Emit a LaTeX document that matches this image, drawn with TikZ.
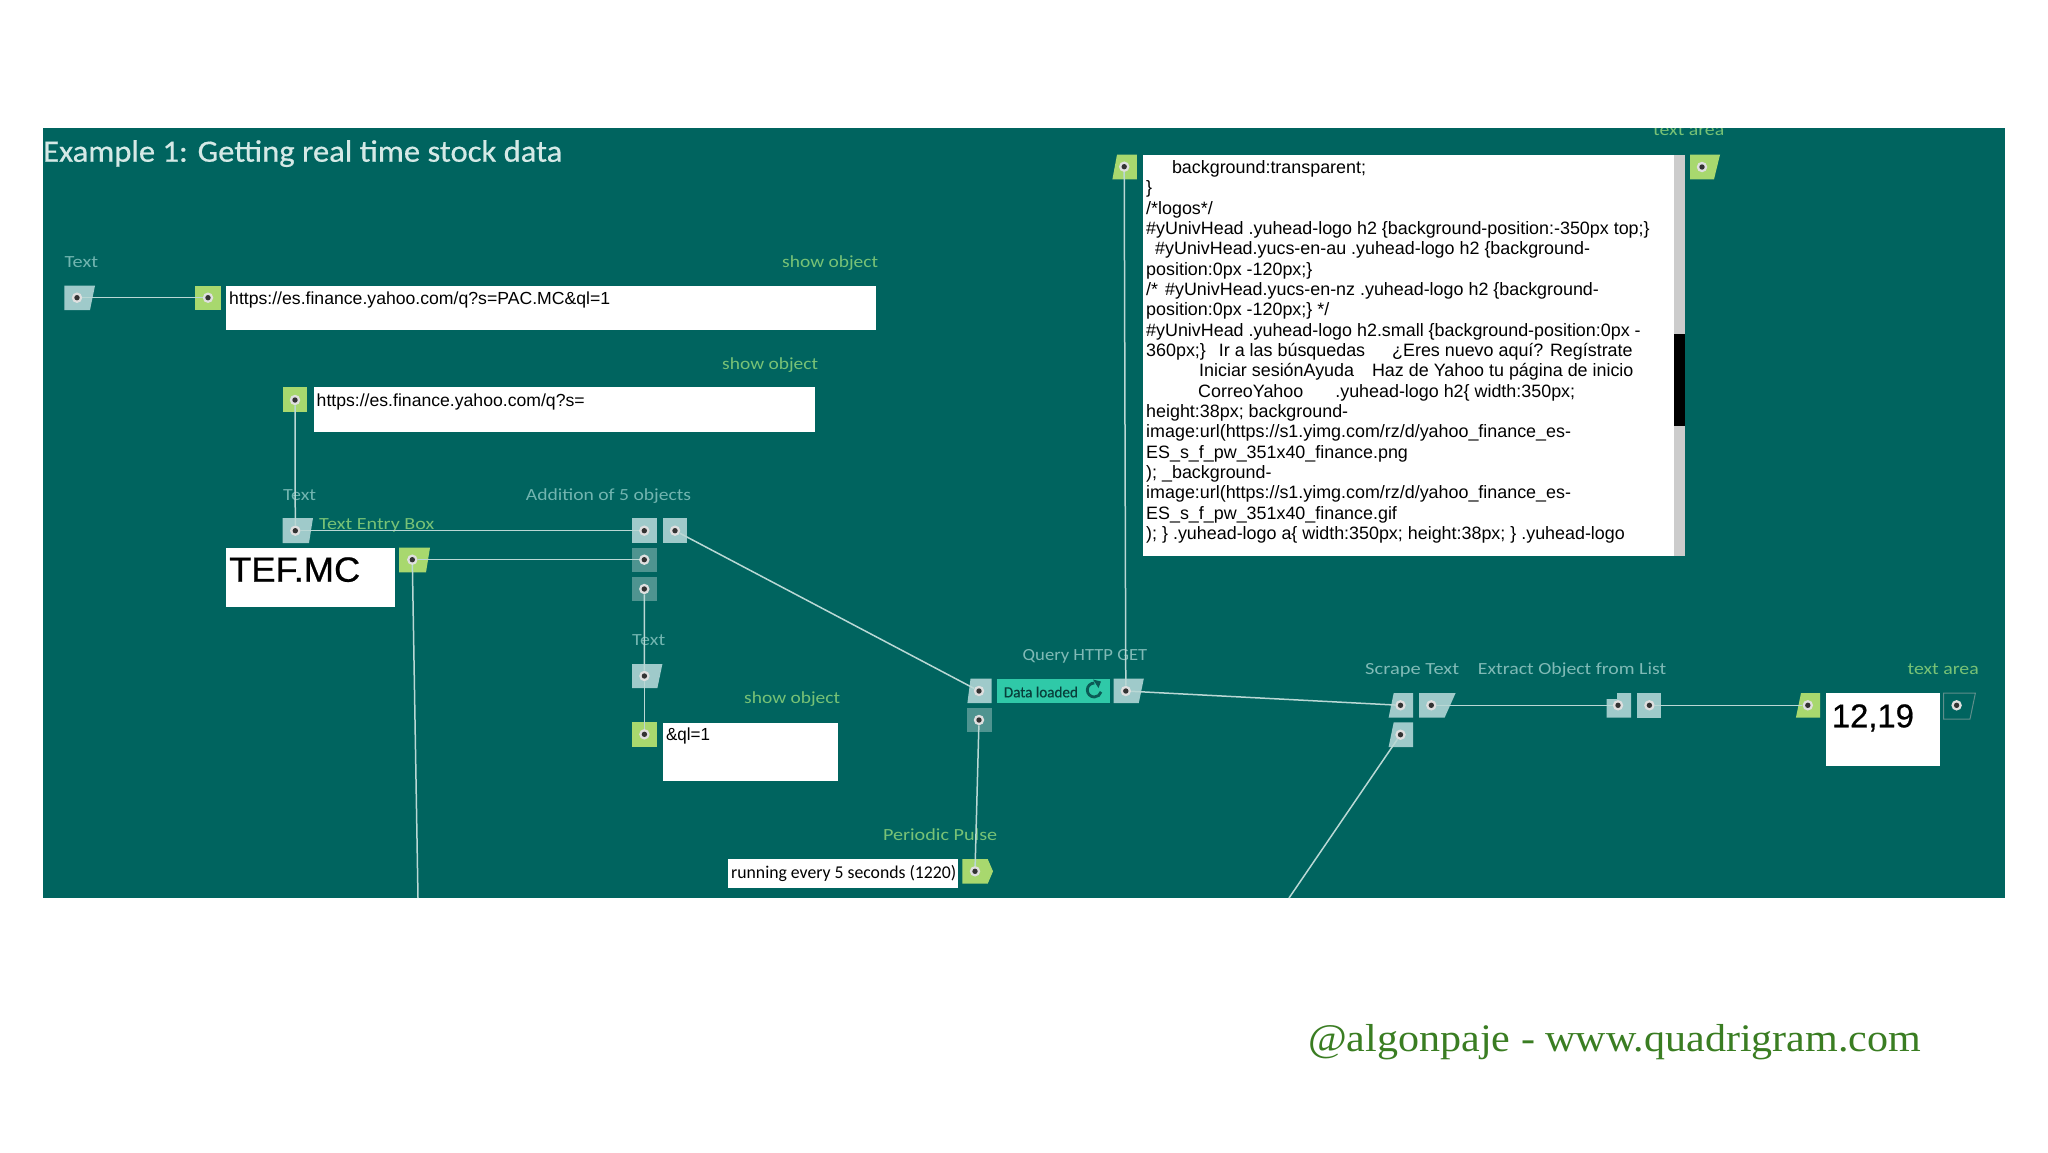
\documentclass[tikz,border=0pt]{standalone}
\usepackage{fontspec}
\usepackage{graphicx}
\setmainfont{Liberation Sans}
\newfontfamily\lblfont{Carlito}
\newfontfamily\titlefont[FakeBold=0.5]{Carlito}
\newfontfamily\heavyfont[FakeBold=0.6]{Liberation Sans}
\newfontfamily\footfont{Liberation Serif}
\definecolor{bgteal}{HTML}{00645F}
\definecolor{portlight}{HTML}{9FCACA}
\definecolor{portdark}{HTML}{4F9490}
\definecolor{portgreen}{HTML}{A8D86E}
\definecolor{wirecol}{HTML}{BAD8D5}
\definecolor{lblteal}{HTML}{72B5B0}
\definecolor{lblpale}{HTML}{A0CFCC}
\definecolor{lblgreen}{HTML}{78C276}
\definecolor{titlecol}{HTML}{D5E9E6}
\definecolor{dataon}{HTML}{2FC9A8}
\definecolor{iconcol}{HTML}{0B5A55}
\definecolor{footgreen}{HTML}{3A7D22}
\newcommand{\fitw}[2]{\resizebox{#1pt}{\height}{#2}}
\tikzset{
  portpin/.style={circle,fill=gray!25,minimum size=10.5pt,inner sep=0pt,
    path picture={\fill[black!80] (path picture bounding box.center) circle (2.7pt);}},
  wire/.style={draw=wirecol,line width=1.5pt},
  whitebox/.style={fill=white,draw=none,anchor=north west,inner sep=0pt},
  lbl/.style={anchor=base west,inner sep=0pt,font=\lblfont\fontsize{17}{20}\selectfont},
  arial/.style={anchor=base west,inner sep=0pt,text=black},
}
\begin{document}
\begin{tikzpicture}[x=1pt,y=-1pt]
\useasboundingbox (0,0) rectangle (2048,1152);
\fill[white] (0,0) rectangle (2048,1152);
\fill[bgteal] (43,128) rectangle (2005,898);

% port bodies
\fill[portlight] (64.4,285.7) -- (95,285.7) -- (90,310) -- (64.4,310) -- cycle;
\fill[portgreen] (195,285.7) rectangle (220.6,310);
\fill[portgreen] (283,387) rectangle (307,412);
\fill[portlight] (282.7,518) -- (313,518) -- (309,543) -- (282.7,543) -- cycle;
\fill[portgreen] (399,547.7) -- (430,547.7) -- (426,572.3) -- (399,572.3) -- cycle;
\fill[portlight] (632,518) rectangle (656.7,543);
\fill[portdark] (632,547.7) rectangle (656.7,572.3);
\fill[portdark] (632,576.7) rectangle (656.7,601.3);
\fill[portlight] (662.7,518) rectangle (687.3,543);
\fill[portlight] (632,664) -- (662.4,664) -- (657.4,688) -- (632,688) -- cycle;
\fill[portgreen] (632,722.3) rectangle (656.6,747);
\fill[portlight] (970.5,678.7) -- (991.5,678.7) -- (991.5,703) -- (967.4,703) -- cycle;
\fill[portdark] (966.6,708) rectangle (991.5,732.3);
\fill[portlight] (1113.6,678.7) -- (1143.8,678.7) -- (1138.8,703) -- (1113.6,703) -- cycle;
\fill[portgreen] (962.4,859) -- (987.7,859) -- (993,871.3) -- (987.7,883.7) -- (962.4,883.7) -- cycle;
\fill[portgreen] (1117,154.7) -- (1136.8,154.7) -- (1136.8,179.3) -- (1112.4,179.3) -- cycle;
\fill[portgreen] (1690,154.7) -- (1720,154.7) -- (1714,179.3) -- (1690,179.3) -- cycle;
\fill[portlight] (1393.7,693) -- (1413,693) -- (1413,717.7) -- (1388.6,717.7) -- cycle;
\fill[portlight] (1393.7,722.3) -- (1413,722.3) -- (1413,747) -- (1388.6,747) -- cycle;
\fill[portlight] (1419,693) -- (1455.6,693) -- (1444.6,717.7) -- (1419,717.7) -- cycle;
\fill[portlight] (1617,693) -- (1631,693) -- (1631,717.7) -- (1606.7,717.7) -- (1606.7,699) -- (1617,699) -- cycle;
\fill[portlight] (1637,693) rectangle (1661.3,717.7);
\fill[portgreen] (1801,693) -- (1820.2,693) -- (1820.2,717.7) -- (1795.9,717.7) -- cycle;
\draw[portdark!70!gray,line width=1pt] (1943.7,693) -- (1975.4,693) -- (1970,719) -- (1943.7,719) -- cycle;

% white boxes and their text
\node[whitebox,minimum width=649.6pt,minimum height=44.3pt] (box1) at (226,285.7) {};
\node[arial] (url1) at (229,304.3) {\fontsize{17.5}{20}\selectfont\fitw{381}{https://es.finance.yahoo.com/q?s=PAC.MC\&ql=1}};
\node[whitebox,minimum width=501.4pt,minimum height=45pt] (box2) at (313.6,387) {};
\node[arial] (url2) at (316.5,406) {\fontsize{17.5}{20}\selectfont\fitw{268}{https://es.finance.yahoo.com/q?s=}};
\node[whitebox,minimum width=169pt,minimum height=59pt] (box3) at (226,547.7) {};
\node[arial,font=\heavyfont] (tef) at (229,581.7) {\fontsize{35}{40}\selectfont\fitw{131}{TEF.MC}};
\node[whitebox,minimum width=174.5pt,minimum height=58pt] (box4) at (662.8,722.3) {};
\node[arial] (ql) at (665.8,740.7) {\fontsize{17.5}{20}\selectfont\fitw{44}{\&ql=1}};
\node[whitebox,minimum width=230pt,minimum height=28.7pt] (box5) at (728,859) {};
\node[arial,font=\lblfont] (run) at (731,878.3) {\fontsize{18}{20}\selectfont\fitw{225}{running every 5 seconds (1220)}};
\node[whitebox,minimum width=113.6pt,minimum height=72.3pt] (box6) at (1826,693) {};
\node[arial,font=\heavyfont] (val) at (1831.7,727.3) {\fontsize{33}{40}\selectfont\fitw{82}{12,19}};
\node[whitebox,minimum width=542.7pt,minimum height=401pt] (box7) at (1142.3,154.7) {};
\fill[gray!40] (1674,154.7) rectangle (1685,555.7);
\fill[black] (1674,333.7) rectangle (1685,426);
\node[arial] (area) at (1146,173.3) {\parbox[t]{526pt}{\raggedright\fontsize{17.9}{20.35}\selectfont
\hspace*{25.8pt}background:transparent;\\
\}\\
/*logos*/\\
\#yUnivHead .yuhead-logo h2 \{background-position:-350px top;\}\\
\hspace*{9pt}\#yUnivHead.yucs-en-au .yuhead-logo h2 \{background-\\
position:0px -120px;\}\\
/*\hspace*{7pt}\#yUnivHead.yucs-en-nz .yuhead-logo h2 \{background-\\
position:0px -120px;\} */\\
\#yUnivHead .yuhead-logo h2.small \{background-position:0px -\\
360px;\}\hspace*{13pt}Ir a las búsquedas\hspace*{27pt}¿Eres nuevo aquí? Regístrate\\
\hspace*{53pt}Iniciar sesiónAyuda\hspace*{18pt}Haz de Yahoo tu página de inicio\\
\hspace*{52pt}CorreoYahoo\hspace*{32pt}.yuhead-logo h2\{ width:350px;\\
height:38px; background-\\
image:url(https://s1.yimg.com/rz/d/yahoo\_finance\_es-\\
ES\_s\_f\_pw\_351x40\_finance.png\\
); \_background-\\
image:url(https://s1.yimg.com/rz/d/yahoo\_finance\_es-\\
ES\_s\_f\_pw\_351x40\_finance.gif\\
); \} .yuhead-logo a\{ width:350px; height:38px; \} .yuhead-logo}};

% data-loaded badge
\node[whitebox,fill=dataon,minimum width=112.4pt,minimum height=24.3pt] (badge) at (997,678.7) {};
\node[arial,font=\titlefont,text=iconcol!70!black] (loaded) at (1003.7,697.3) {\fontsize{15.5}{18}\selectfont\fitw{74}{Data loaded}};
\draw[line width=2.8pt,draw=iconcol] (1094.3,683) arc[start angle=-90,end angle=-345,radius=7];
\fill[iconcol] (1093,679.5) -- (1101,681.5) -- (1098.5,688) -- cycle;

% labels
\begin{scope}
\clip (43,128) rectangle (2005,898);
\node[anchor=base west,inner sep=0pt,text=titlecol,font=\titlefont] (title) at (43,161.7) {\fontsize{31}{36}\selectfont\fitw{519}{Example 1: Getting real time stock data}};
\node[lbl,text=lblteal] (l1) at (64.4,267) {\fitw{33.6}{Text}};
\node[lbl,text=lblgreen] (l2) at (782,267) {\fitw{96}{show object}};
\node[lbl,text=lblgreen] (l3) at (722,369) {\fitw{96}{show object}};
\node[lbl,text=lblteal] (l4) at (283,500) {\fitw{33}{Text}};
\node[lbl,text=lblteal] (l5) at (525.7,500) {\fitw{165.3}{Addition of 5 objects}};
\node[lbl,text=lblgreen] (l6) at (319,529) {\fitw{115}{Text Entry Box}};
\node[lbl,text=lblteal] (l7) at (632,645) {\fitw{33}{Text}};
\node[lbl,text=lblgreen] (l8) at (744,703.3) {\fitw{96}{show object}};
\node[lbl,text=lblpale!80!bgteal] (l9) at (1022.5,660) {\fitw{124.5}{Query HTTP GET}};
\node[lbl,text=lblgreen] (l10) at (882.8,840) {\fitw{114.2}{Periodic Pulse}};
\node[lbl,text=lblpale!80!bgteal] (l11) at (1365,674.3) {\fitw{94}{Scrape Text}};
\node[lbl,text=lblpale!80!bgteal] (l12) at (1477.7,674.3) {\fitw{188.3}{Extract Object from List}};
\node[lbl,text=lblgreen] (l13) at (1907.4,674.3) {\fitw{71.2}{text area}};
\node[lbl,text=lblgreen] (l14) at (1653,135.3) {\fitw{71}{text area}};
\end{scope}

% pins
\node[portpin] (p1) at (77,297.7) {};
\node[portpin] (p2) at (208,297.7) {};
\node[portpin] (p3) at (295,400) {};
\node[portpin] (p4) at (295.3,530.7) {};
\node[portpin] (p5) at (412.3,559.7) {};
\node[portpin] (a1) at (644.3,530.7) {};
\node[portpin] (a2) at (644.3,559.7) {};
\node[portpin] (a3) at (644.3,589) {};
\node[portpin] (a4) at (675,530.7) {};
\node[portpin] (t1) at (644.4,676) {};
\node[portpin] (t2) at (644.4,734.3) {};
\node[portpin] (q1) at (979,691) {};
\node[portpin] (q2) at (979,720) {};
\node[portpin] (q3) at (1125.8,691) {};
\node[portpin] (pp) at (975,871.3) {};
\node[portpin] (g1) at (1124.2,166.7) {};
\node[portpin] (g2) at (1702,167) {};
\node[portpin] (s1) at (1400.5,705.3) {};
\node[portpin] (s2) at (1400.5,734.7) {};
\node[portpin] (s3) at (1431.3,705.3) {};
\node[portpin] (e1) at (1618,705.3) {};
\node[portpin] (e2) at (1649.4,705.3) {};
\node[portpin] (g3) at (1807.8,705.3) {};
\node[portpin] (o1) at (1956.6,705.3) {};
\coordinate (b1) at (418,898);
\coordinate (b2) at (1289,898);

% connectors
\draw[wire] (p1) -- (p2);
\draw[wire] (p3) -- (p4);
\draw[wire] (p4) -- (a1);
\draw[wire] (p5) -- (a2);
\draw[wire] (p5) -- (b1);
\draw[wire] (a3) -- (t1);
\draw[wire] (t1) -- (t2);
\draw[wire] (a4) -- (q1);
\draw[wire] (q2) -- (pp);
\draw[wire] (g1) -- (q3);
\draw[wire] (q3) -- (s1);
\draw[wire] (s2) -- (b2);
\draw[wire] (s3) -- (e1);
\draw[wire] (e2) -- (g3);

% footer
\node[anchor=base west,inner sep=0pt,text=footgreen,font=\footfont] (foot) at (1308,1051.7) {\fontsize{39}{44}\selectfont\fitw{613}{@algonpaje - www.quadrigram.com}};
\end{tikzpicture}
\end{document}
